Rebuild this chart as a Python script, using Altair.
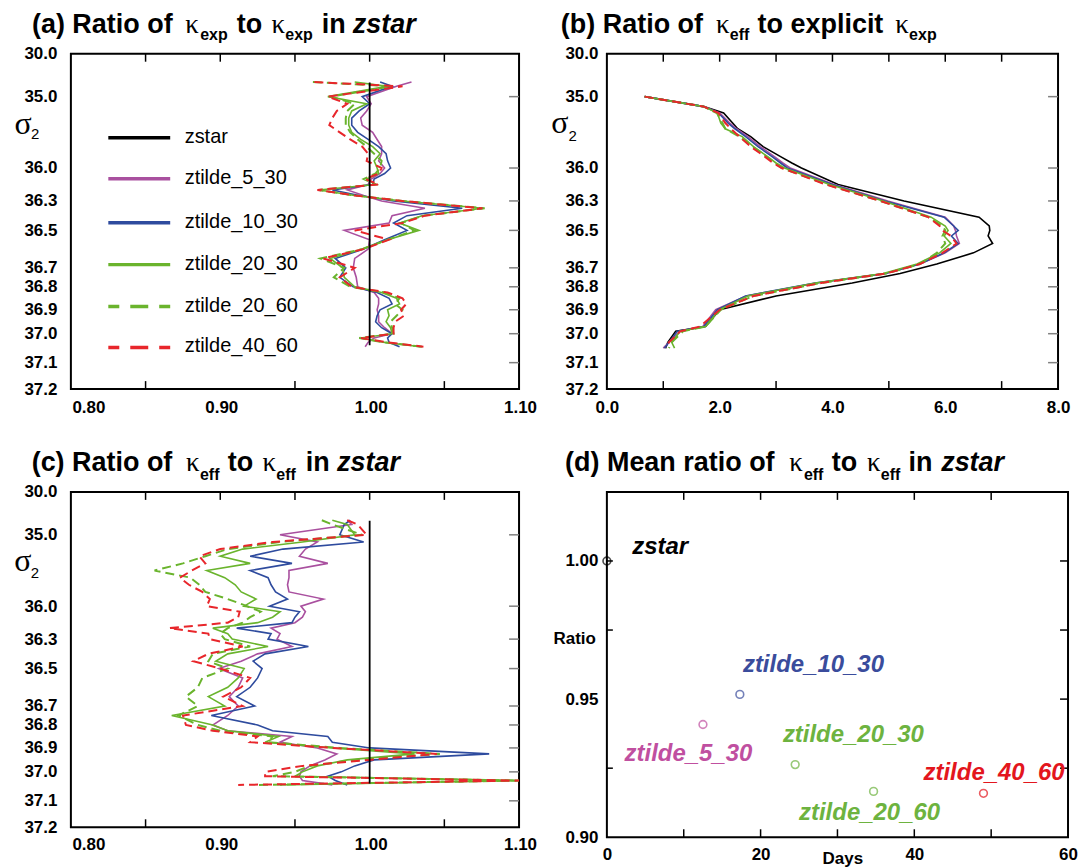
import altair as alt
import pandas as pd

SANS = "Liberation Sans"
SERIF = "Liberation Serif"

# ---------------- data ----------------
SERIES = ["zstar", "ztilde_5_30", "ztilde_10_30", "ztilde_20_30", "ztilde_20_60", "ztilde_40_60"]
LINE_COLORS = ["#000000", "#a9509f", "#2e4b9e", "#6ab42d", "#6ab42d", "#e8262b"]
LINE_DASHED = [False, False, False, False, True, True]
LABEL_COLORS = ["#000000", "#c04fa0", "#3a4c9c", "#6db33f", "#6db33f", "#e3161d"]

SIGMA_TICKS = [30.0, 35.0, 36.0, 36.3, 36.5, 36.7, 36.8, 36.9, 37.0, 37.1, 37.2]

# sigma_2 levels for panels (a) and (c)
SIGMA_AC = [33.3, 33.8, 35.0, 35.1, 35.2, 35.3, 35.4, 35.5, 35.6, 35.7, 35.8, 35.9, 36.0,
            36.05, 36.1, 36.15, 36.2, 36.25, 36.3, 36.35, 36.4, 36.45, 36.5, 36.55, 36.6,
            36.65, 36.7, 36.75, 36.8, 36.825, 36.85, 36.875, 36.9, 36.925, 36.95, 36.975,
            37.0, 37.015, 37.03, 37.045]
ZSTAR_SIGMA_AC = [33.35, 37.04]
ZSTAR_RATIO_AC = [1.0, 1.0]

# (a) ratio of kappa_exp to kappa_exp in zstar
A_5_30 = [1.028, 1.018, 0.998, 1.001, 0.998, 0.994, 0.995, 1.002, 1.005, 1.008, 1.008, 1.006, 1.010,
          1.007, 1.001, 0.999, 0.985, 0.996, 1.008, 1.037, 1.015, 1.013, 0.983, 1.000, 0.999,
          0.990, 0.989, 0.991, 0.992, 1.003, 1.006, 1.006, 1.005, 1.006, 1.006, 1.010,
          1.015, 1.003, 0.999, 0.997]
A_10_30 = [1.007, 1.015, 0.995, 1.000, 0.993, 0.988, 0.988, 0.992, 0.999, 1.006, 1.011, 1.012, 1.014,
           1.010, 1.003, 1.002, 0.975, 0.993, 1.016, 1.062, 1.025, 1.016, 1.025, 1.010, 0.996,
           0.977, 0.984, 0.980, 0.989, 1.005, 1.013, 1.015, 1.007, 1.005, 1.004, 1.008,
           1.015, 1.012, 1.013, 1.020]
A_20_30 = [0.990, 1.012, 0.972, 0.998, 0.988, 0.986, 0.986, 0.988, 0.994, 1.002, 1.007, 1.003, 1.005,
           1.006, 0.998, 1.004, 0.966, 0.990, 1.022, 1.076, 1.035, 1.020, 1.033, 1.012, 0.995,
           0.9735, 0.982, 0.983, 0.990, 1.008, 1.018, 1.020, 1.012, 1.013, 1.011, 1.014,
           1.015, 0.994, 1.010, 1.034]
A_20_60 = [0.962, 1.015, 0.974, 0.990, 0.985, 0.984, 0.984, 0.987, 0.992, 0.998, 1.003, 1.008, 1.007,
           1.004, 0.996, 1.004, 0.966, 0.990, 1.022, 1.077, 1.036, 1.021, 1.030, 1.012, 0.995,
           0.967, 0.983, 0.976, 0.987, 1.010, 1.020, 1.017, 1.022, 1.018, 1.014, 1.015,
           1.016, 0.993, 1.010, 1.035]
A_40_60 = [0.963, 1.022, 0.972, 0.985, 0.978, 0.975, 0.973, 0.980, 0.987, 0.995, 0.999, 0.998, 1.008,
           1.006, 0.997, 1.006, 0.965, 0.990, 1.022, 1.0755, 1.037, 1.022, 0.990, 1.013, 0.996,
           0.969, 0.990, 0.980, 0.988, 1.012, 1.022, 1.0245, 1.021, 1.023, 1.017, 1.016,
           1.016, 0.994, 1.012, 1.036]

# (c) ratio of kappa_eff to kappa_eff in zstar
C_5_30 = [0.985, 0.988, 0.940, 0.965, 0.957, 0.953, 0.972, 0.946, 0.946, 0.945, 0.946, 0.969, 0.954,
          0.957, 0.955, 0.950, 0.934, 0.940, 0.938, 0.948, 0.925, 0.914, 0.899, 0.915, 0.912,
          0.906, 0.912, 0.905, 0.895, 0.905, 0.948, 0.940, 0.965, 0.978, 0.970, 0.960,
          0.954, 0.953, 0.955, 0.975]
C_10_30 = [0.987, 0.983, 0.980, 0.996, 0.942, 0.920, 0.948, 0.920, 0.932, 0.934, 0.937, 0.945, 0.933,
           0.953, 0.950, 0.948, 0.911, 0.934, 0.932, 0.959, 0.930, 0.922, 0.928, 0.925, 0.920,
           0.911, 0.923, 0.894, 0.925, 0.935, 0.972, 0.975, 1.000, 1.080, 1.003, 0.990,
           0.981, 0.972, 0.977, 0.985]
C_20_30 = [0.975, 0.985, 0.990, 0.955, 0.915, 0.900, 0.920, 0.891, 0.903, 0.910, 0.914, 0.924, 0.916,
           0.940, 0.935, 0.925, 0.895, 0.905, 0.908, 0.932, 0.905, 0.897, 0.916, 0.912, 0.905,
           0.892, 0.903, 0.8675, 0.895, 0.905, 0.939, 0.930, 0.975, 1.030, 0.985, 0.965,
           0.955, 0.950, 1.100, 0.940]
C_20_60 = [0.968, 0.975, 0.995, 0.940, 0.905, 0.890, 0.875, 0.856, 0.880, 0.886, 0.890, 0.905, 0.918,
           0.927, 0.920, 0.915, 0.905, 0.900, 0.903, 0.920, 0.895, 0.892, 0.905, 0.888, 0.885,
           0.877, 0.885, 0.872, 0.885, 0.900, 0.935, 0.932, 0.980, 1.047, 0.990, 0.960,
           0.950, 0.935, 1.100, 0.925]
C_40_60 = [0.985, 0.992, 0.998, 0.935, 0.900, 0.886, 0.890, 0.881, 0.873, 0.879, 0.888, 0.893, 0.891,
           0.913, 0.912, 0.905, 0.866, 0.892, 0.893, 0.915, 0.892, 0.882, 0.900, 0.920, 0.914,
           0.902, 0.915, 0.875, 0.877, 0.895, 0.925, 0.920, 0.975, 1.045, 1.000, 0.955,
           0.930, 0.930, 1.100, 0.912]

# (b) ratio of kappa_eff to explicit kappa_exp
SIGMA_B = [35.0, 35.14, 35.23, 35.37, 35.45, 35.56, 35.7, 35.84, 35.93, 36.0, 36.15, 36.3, 36.41,
           36.47, 36.5, 36.53, 36.57, 36.62, 36.68, 36.73, 36.78, 36.84, 36.9, 36.97, 36.99,
           37.03, 37.05]
B_ZSTAR = [0.67, 1.72, 2.07, 2.23, 2.32, 2.55, 2.77, 3.08, 3.28, 3.45, 4.10, 5.27, 6.60, 6.78, 6.79,
           6.76, 6.84, 6.50, 5.85, 5.20, 4.35, 3.00, 2.00, 1.75, 1.22, 1.08, 1.04]
B_5_30 = [0.67, 1.72, 2.00, 2.18, 2.30, 2.50, 2.72, 2.97, 3.12, 3.25, 4.03, 4.98, 6.00, 6.15, 6.18,
          6.20, 6.25, 6.00, 5.55, 4.95, 3.72, 2.47, 1.93, 1.70, 1.30, 1.10, 1.00]
B_10_30 = [0.67, 1.72, 1.98, 2.15, 2.27, 2.46, 2.68, 2.93, 3.08, 3.20, 4.00, 4.93, 5.98, 6.15, 6.23,
           6.11, 6.23, 5.98, 5.55, 4.93, 3.69, 2.46, 1.96, 1.72, 1.25, 1.10, 1.02]
B_20_30 = [0.67, 1.72, 1.96, 2.02, 2.10, 2.40, 2.60, 2.85, 3.00, 3.15, 3.95, 4.90, 5.75, 6.00, 6.05,
           5.98, 6.10, 5.90, 5.50, 4.90, 3.70, 2.50, 2.00, 1.75, 1.30, 1.15, 1.20]
B_20_60 = [0.67, 1.72, 1.95, 2.05, 2.10, 2.35, 2.58, 2.83, 2.98, 3.10, 3.90, 4.85, 5.70, 5.95, 6.00,
           5.95, 6.00, 5.85, 5.55, 4.95, 3.80, 2.60, 2.02, 1.75, 1.35, 1.15, 1.10]
B_40_60 = [0.67, 1.72, 1.98, 2.10, 2.20, 2.35, 2.55, 2.80, 2.95, 3.10, 3.88, 4.85, 5.70, 5.90, 5.95,
           6.10, 6.20, 5.95, 5.55, 4.95, 3.80, 2.60, 2.00, 1.65, 1.30, 1.10, 1.05]

# (d) mean ratio of kappa_eff to kappa_eff in zstar
D_DAYS = [0.0, 12.5, 17.3, 24.5, 34.7, 49.0]
D_RATIO = [1.000, 0.9408, 0.9517, 0.9263, 0.9166, 0.9159]
D_LABEL_DAYS = [3.3, 2.3, 17.7, 22.9, 25.0, 41.2]
D_LABEL_RATIO = [1.0052, 0.9303, 0.9622, 0.9370, 0.9087, 0.9231]

# ---------------- layout helpers ----------------
SIGMA_PIX = [0, 43, 114.5, 147.5, 177, 214.5, 233.5, 256.5, 280.5, 309.5, 336]
H = 336
ONE = pd.DataFrame({"k": [0]})
Y_SIG = alt.Scale(domain=SIGMA_TICKS, range=SIGMA_PIX, nice=False, zero=False)
LABEL_SIZE = 17


def txt(s, x, y, size, weight="bold", style="normal", font=SANS, color="black",
        align="left", baseline="alphabetic"):
    return alt.Chart(ONE).mark_text(
        text=s, font=font, fontSize=size, fontWeight=weight, fontStyle=style,
        color=color, align=align, baseline=baseline
    ).encode(x=alt.value(x), y=alt.value(y))


def title_layers(segs, main_y, sub_y):
    out = []
    for kind, s, x in segs:
        if kind == "m":
            out.append(txt(s, x, main_y, 27))
        elif kind == "i":
            out.append(txt(s, x, main_y, 27, style="italic"))
        elif kind == "k":
            out.append(txt(s, x, main_y, 27, weight="normal", font=SERIF))
        else:
            out.append(txt(s, x, sub_y, 16))
    return out


def sigma_label(x, y, x2, y2):
    return [txt("σ", x, y, 32, weight="normal", font=SERIF),
            txt("2", x2, y2, 15, weight="normal")]


def axis(values, fmt, pad, first_left=None):
    kw = dict(values=values, format=fmt, labelPadding=pad, labelFlush=False, labelOverlap=False,
              ticks=False, domain=False, grid=False, title=None, labelFont=SANS,
              labelFontSize=LABEL_SIZE, labelFontWeight="bold", labelColor="black")
    if first_left is not None:
        kw["labelAlign"] = {"condition": {"test": "datum.value < %s" % first_left, "value": "left"},
                            "value": "center"}
        kw["labelOffset"] = 1
    return alt.Axis(**kw)


def line(sig, vals, color, dashed, xs, xaxis, yaxis, width=1.6):
    df = pd.DataFrame({"sigma": sig, "x": vals})
    kw = dict(color=color, strokeWidth=(2.0 if dashed else width), clip=True)
    if dashed:
        kw["strokeDash"] = [9, 5]
    return alt.Chart(df).mark_line(**kw).encode(
        x=alt.X("x:Q", scale=xs, axis=xaxis),
        y=alt.Y("sigma:Q", scale=Y_SIG, axis=yaxis),
        order=alt.Order("sigma:Q"),
    )


def xticks(vals, xs, xaxis, y0, y1, field="x", color="black"):
    return alt.Chart(pd.DataFrame({field: vals})).mark_rule(color=color, strokeWidth=1.5).encode(
        x=alt.X(field + ":Q", scale=xs, axis=xaxis), y=alt.value(y0), y2=alt.value(y1))


def yticks(vals, ys, yaxis, x0, x1, field="sigma", color="#808080"):
    return alt.Chart(pd.DataFrame({field: vals})).mark_rule(color=color, strokeWidth=1.5).encode(
        y=alt.Y(field + ":Q", scale=ys, axis=yaxis), x=alt.value(x0), x2=alt.value(x1))


# ---------------- panel (a) ----------------
WA = 449
XS_R = alt.Scale(domain=[0.8, 1.1], nice=False, zero=False)
ax_a = axis([0.8, 0.9, 1.0, 1.1], ".2f", 10, first_left=0.85)
ay_a = axis(SIGMA_TICKS, ".1f", 14)

a_vals = [A_5_30, A_10_30, A_20_30, A_20_60, A_40_60]
layers_a = [
    xticks([0.85, 0.90, 0.95, 1.00, 1.05], XS_R, ax_a, 0, 8),
    xticks([0.85, 0.95, 1.05], XS_R, ax_a, H - 8, H),
    yticks(SIGMA_TICKS[1:-1], Y_SIG, ay_a, WA - 10, WA),
]
for i, vals in enumerate(a_vals):
    k = i + 1
    layers_a.append(line(SIGMA_AC, vals, LINE_COLORS[k], LINE_DASHED[k], XS_R, ax_a, ay_a))
layers_a.append(line(ZSTAR_SIGMA_AC, ZSTAR_RATIO_AC, "#000000", False, XS_R, ax_a, ay_a, width=1.8))

LEG_Y = [84.3, 125.3, 169.3, 211.3, 253.3, 294.3]
for i, name in enumerate(SERIES):
    kw = dict(color=LINE_COLORS[i], strokeWidth=3.5)
    if LINE_DASHED[i]:
        kw["strokeDash"] = [18, 11]
        kw["strokeDashOffset"] = 7
    layers_a.append(alt.Chart(ONE).mark_rule(**kw).encode(
        x=alt.value(37.5), x2=alt.value(99.5), y=alt.value(LEG_Y[i])))
    layers_a.append(txt(name, 114, LEG_Y[i] - 1, 20, weight="normal", baseline="middle"))

layers_a += title_layers([("m", "(a) Ratio of", -39), ("k", "κ", 114.7), ("s", "exp", 129.6),
                          ("m", "to", 166.1), ("k", "κ", 200.9), ("s", "exp", 214.8),
                          ("m", "in", 251.3), ("i", "zstar", 282.5)], -21, -13.4)
layers_a += sigma_label(-56.4, 80, -40, 85.5)
panel_a = alt.layer(*layers_a).properties(width=WA, height=H)

# ---------------- panel (b) ----------------
WB = 452
XS_B = alt.Scale(domain=[0, 8], nice=False, zero=False)
ax_b = axis([0, 2, 4, 6, 8], ".1f", 10)
ay_b = axis(SIGMA_TICKS, ".1f", 9)
b_vals = [B_ZSTAR, B_5_30, B_10_30, B_20_30, B_20_60, B_40_60]
layers_b = [
    xticks([1, 2, 3, 4, 5, 6, 7], XS_B, ax_b, 0, 8),
    xticks([1, 3, 5, 7], XS_B, ax_b, H - 8, H),
    yticks(SIGMA_TICKS[1:-1], Y_SIG, ay_b, WB - 10, WB),
]
for i, vals in enumerate(b_vals):
    layers_b.append(line(SIGMA_B, vals, LINE_COLORS[i], LINE_DASHED[i], XS_B, ax_b, ay_b))
layers_b += title_layers([("m", "(b) Ratio of", -46.1), ("k", "κ", 109.2), ("s", "eff", 123.1),
                          ("m", "to explicit", 151), ("k", "κ", 288.8), ("s", "exp", 302.8)],
                         -21.2, -13.4)
layers_b += sigma_label(-55.8, 79, -38.5, 87)
panel_b = alt.layer(*layers_b).properties(width=WB, height=H)

# ---------------- panel (c) ----------------
WC = 449
ay_c = axis(SIGMA_TICKS, ".1f", 14)
ax_c = axis([0.8, 0.9, 1.0, 1.1], ".2f", 9, first_left=0.85)
c_vals = [C_5_30, C_10_30, C_20_30, C_20_60, C_40_60]
layers_c = [
    xticks([0.85, 0.90, 0.95, 1.00, 1.05], XS_R, ax_c, 0, 8),
    xticks([0.85, 0.95, 1.05], XS_R, ax_c, H - 8, H),
    yticks(SIGMA_TICKS[1:-1], Y_SIG, ay_c, WC - 10, WC),
]
for i, vals in enumerate(c_vals):
    k = i + 1
    layers_c.append(line(SIGMA_AC, vals, LINE_COLORS[k], LINE_DASHED[k], XS_R, ax_c, ay_c))
layers_c.append(line(ZSTAR_SIGMA_AC, ZSTAR_RATIO_AC, "#000000", False, XS_R, ax_c, ay_c, width=1.8))
layers_c += title_layers([("m", "(c) Ratio of", -39.3), ("k", "κ", 115.4), ("s", "eff", 129.3),
                          ("m", "to", 157.1), ("k", "κ", 191.9), ("s", "eff", 205.8),
                          ("m", "in", 235.3), ("i", "zstar", 266.6)], -20.5, -12.2)
layers_c += sigma_label(-56.7, 79.5, -40.3, 86.5)
panel_c = alt.layer(*layers_c).properties(width=WC, height=H)

# ---------------- panel (d) ----------------
WD, HD = 462, 346
XS_D = alt.Scale(domain=[0, 60], nice=False, zero=False)
YS_D = alt.Scale(domain=[0.9, 1.025], nice=False, zero=False)
ax_d = axis([0, 20, 40, 60], "d", 9)
ay_d = axis([0.90, 0.95, 1.00], ".2f", 9)
COLOR_D = alt.Scale(domain=SERIES, range=LABEL_COLORS)

pts = pd.DataFrame({"days": D_DAYS, "ratio": D_RATIO, "series": SERIES})
labs = pd.DataFrame({"days": D_LABEL_DAYS, "ratio": D_LABEL_RATIO, "series": SERIES})

layers_d = [
    xticks([10, 20, 30, 40, 50], XS_D, ax_d, 0, 8, field="days"),
    xticks([10, 20, 30, 40, 50], XS_D, ax_d, HD - 8, HD, field="days"),
    yticks([1.0, 0.975, 0.95, 0.925], YS_D, ay_d, WD - 8, WD, field="ratio", color="black"),
    yticks([1.0, 0.975, 0.925], YS_D, ay_d, 0, 6, field="ratio", color="black"),
    alt.Chart(pts).mark_point(shape="circle", filled=False, size=60, strokeWidth=1.6).encode(
        x=alt.X("days:Q", scale=XS_D, axis=ax_d),
        y=alt.Y("ratio:Q", scale=YS_D, axis=ay_d),
        color=alt.Color("series:N", scale=COLOR_D, legend=None),
    ),
    alt.Chart(labs).mark_text(font=SANS, fontSize=24, fontWeight="bold", fontStyle="italic",
                              align="left", baseline="middle").encode(
        x=alt.X("days:Q", scale=XS_D, axis=ax_d),
        y=alt.Y("ratio:Q", scale=YS_D, axis=ay_d),
        text="series:N",
        color=alt.Color("series:N", scale=COLOR_D, legend=None),
    ),
    txt("Ratio", -11, 147.8, 17, align="right", baseline="middle"),
    txt("Days", 236.4, 368, 17, align="center", baseline="middle"),
]
layers_d += title_layers([("m", "(d) Mean ratio of", -41.9), ("k", "κ", 182.8), ("s", "eff", 197.4),
                          ("m", "to", 225.4), ("k", "κ", 260.6), ("s", "eff", 274.4),
                          ("m", "in", 302.1), ("i", "zstar", 334.9)], -20.5, -12.2)
panel_d = alt.layer(*layers_d).properties(width=WD, height=HD)

# ---------------- assemble ----------------
chart = alt.concat(
    panel_a, panel_b, panel_c, panel_d,
    columns=2, spacing={"row": 103, "column": 88}, bounds="flush", align="each",
).properties(
    padding={"left": 5, "top": 0, "right": 0, "bottom": 0}
).configure_view(stroke="black", strokeWidth=2).configure_axis(grid=False)

chart.save("out.html", embed_options={"renderer": "svg", "actions": False})
